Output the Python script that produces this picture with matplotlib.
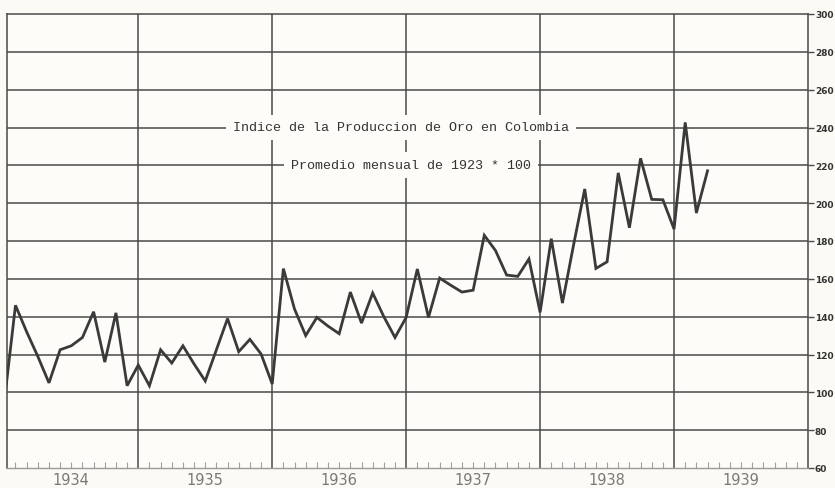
import matplotlib
matplotlib.use("Agg")
import matplotlib.pyplot as plt
import numpy as np

# Monthly index values (1923 monthly average = 100)
years = [1934, 1935, 1936, 1937, 1938, 1939]
v1934 = [95, 146, 132, 119, 105, 122.5, 124.6, 129, 142.6, 116, 142, 103.5]
v1935 = [114.4, 103.5, 122.5, 115.5, 124.6, 115, 106, 122.5, 139, 121.5, 128, 120.3]
v1936 = [104.4, 165.4, 144, 130, 139.6, 135, 131, 153, 136.6, 152.5, 140, 129]
v1937 = [139.6, 165.2, 139.6, 160.4, 156.6, 153, 154, 183, 175, 162, 161.3, 170.5]
v1938 = [142.3, 181.2, 147.2, 178, 207.5, 165.5, 169, 216, 187, 223.7, 202, 201.8]
v1939 = [186.3, 242.7, 194.8, 217.1]
y_ticks = [60, 80, 100, 120, 140, 160, 180, 200, 220, 240, 260, 280, 300]
year_labels = ["1934", "1935", "1936", "1937", "1938", "1939"]
title1 = "Indice de la Produccion de Oro en Colombia"
title2 = "Promedio mensual de 1923 * 100"

series = [v1934, v1935, v1936, v1937, v1938, v1939]
xs, ys = [], []
for yr, vals in zip(years, series):
    for m, v in enumerate(vals):
        xs.append(yr + m / 12.0)
        ys.append(v)

W, H = 835, 489
fig = plt.figure(figsize=(W / 100, H / 100), dpi=100, facecolor="#fbfaf4")
L, R, T, B = 7, 808, 15, 469
ax = fig.add_axes([L / W, 1 - B / H, (R - L) / W, (B - T) / H])
ax.set_facecolor("#fdfcf8")
ax.set_xlim(1934.02, 1940.0)
ax.set_ylim(60, 300)

grid_c = "#4a4a4a"
for yv in y_ticks[1:-1]:
    ax.axhline(yv, color=grid_c, lw=1.1, zorder=1)
for yr in years[1:]:
    ax.axvline(yr, color=grid_c, lw=1.1, zorder=1)

ax.plot(xs, ys, color="#3a3a3a", lw=2.0, zorder=3, solid_joinstyle="miter")

for s in ["left", "right", "top"]:
    ax.spines[s].set_color(grid_c)
    ax.spines[s].set_linewidth(1.1)
ax.spines["bottom"].set_color("#9a9a9a")
ax.spines["bottom"].set_linewidth(1.0)

# right y ticks
ax.yaxis.tick_right()
ax.set_yticks(y_ticks)
ax.set_yticklabels([str(t) for t in y_ticks], fontsize=6.5, fontweight="bold",
                   color="#333333", family="DejaVu Sans")
ax.tick_params(axis="y", direction="out", length=4, width=1.0, color=grid_c, pad=1)

# month ticks on bottom
months = [yr + m / 12.0 for yr in range(1934, 1940) for m in range(1, 12)]
ax.set_xticks(months, minor=True)
ax.set_xticks([])
ax.tick_params(axis="x", which="minor", direction="in", length=4, width=0.8,
               color="#a0a0a0")

for yr, lab in zip(years, year_labels):
    ax.text(yr + 0.5, -0.008, lab, transform=ax.get_xaxis_transform(),
            ha="center", va="top", fontsize=10.5, color="#7a7a7a",
            family="DejaVu Sans")

box = dict(facecolor="#fdfcf8", edgecolor="none", pad=5)
ax.text(1934.02 + (401 - L) / (R - L) * 5.98, 240, title1, ha="center", va="center",
        fontsize=9.6, family="Liberation Mono", color="#333333", bbox=box, zorder=4)
ax.text(1934.02 + (411 - L) / (R - L) * 5.98, 220, title2, ha="center", va="center",
        fontsize=9.6, family="Liberation Mono", color="#333333", bbox=box, zorder=4)

fig.savefig("out.png", dpi=100, facecolor=fig.get_facecolor())
